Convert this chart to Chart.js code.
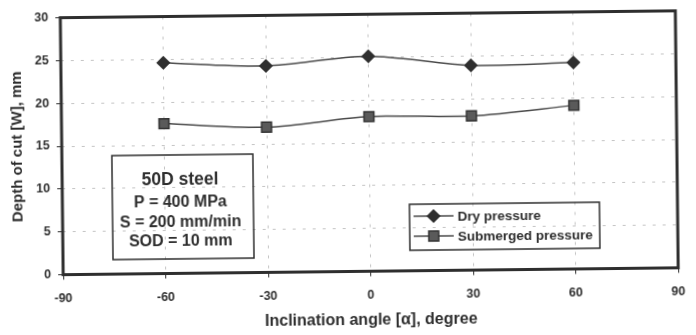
<!DOCTYPE html>
<html>
<head>
<meta charset="utf-8">
<script src="https://cdn.jsdelivr.net/npm/chart.js@4.4.1/dist/chart.umd.min.js"></script>
<style>
  html, body { margin: 0; padding: 0; background: #fff; overflow: hidden; }
  /* the scanned figure sits slightly tilted */
  #wrap { width: 696px; height: 335px; transform: rotate(-0.64deg); }
</style>
</head>
<body>
<div id="wrap"><canvas id="depth-chart" width="696" height="335"></canvas></div>
<script>
const angles = [-60, -30, 0, 30, 60];
const dryPressure = [24.6, 24.1, 25.1, 23.9, 24.1];
const submergedPressure = [17.5, 16.95, 18.05, 18.0, 19.1];
const xTicks = [-90, -60, -30, 0, 30, 60, 90];
const yTicks = [0, 5, 10, 15, 20, 25, 30];
const infoLines = ['50D steel', 'P = 400 MPa', 'S = 200 mm/min', 'SOD = 10 mm'];

const FONT = '"Liberation Sans", Arial, sans-serif';
const INK = '#2e2e2e';

const toPoints = vals => angles.map((a, i) => ({ x: a, y: vals[i] }));

const framePlugin = {
    id: 'frame',
    afterDraw(chart) {
        const ctx = chart.ctx;
        const a = chart.chartArea;
        ctx.save();
        ctx.strokeStyle = INK;
        ctx.lineWidth = 3;
        ctx.strokeRect(a.left, a.top, a.right - a.left, a.bottom - a.top);

        // info box
        ctx.lineWidth = 1.5;
        ctx.strokeRect(112, 153, 141, 104);
        ctx.fillStyle = INK;
        ctx.textAlign = 'center';
        ctx.textBaseline = 'middle';
        const ys = [178, 200.5, 220.5, 239.5];
        infoLines.forEach((t, i) => {
            ctx.font = 'bold ' + (i === 0 ? 17.5 : 16) + 'px ' + FONT;
            ctx.fillText(t, 180, ys[i]);
        });

        // legend box
        ctx.strokeRect(409, 205, 190, 46);
        ctx.textAlign = 'left';
        ctx.font = 'bold 13.5px ' + FONT;
        chart.data.datasets.forEach((ds, i) => {
            const y = 217 + i * 20;
            ctx.strokeStyle = ds.borderColor;
            ctx.lineWidth = 1.5;
            ctx.beginPath();
            ctx.moveTo(413, y);
            ctx.lineTo(453, y);
            ctx.stroke();
            ctx.fillStyle = ds.pointBackgroundColor;
            ctx.strokeStyle = ds.pointBorderColor;
            Chart.helpers.drawPoint(ctx, {
                pointStyle: ds.pointStyle,
                radius: ds.pointRadius,
                rotation: 0,
                borderWidth: 1
            }, 433, y);
            ctx.fillStyle = INK;
            ctx.fillText(ds.label, 457, y + 1);
        });
        ctx.restore();
    }
};

new Chart(document.getElementById('depth-chart'), {
    type: 'scatter',
    data: {
        datasets: [{
            label: 'Dry pressure',
            data: toPoints(dryPressure),
            showLine: true,
            tension: 0.3,
            borderColor: '#4a4a4a',
            borderWidth: 1.5,
            pointStyle: 'rectRot',
            pointRadius: 6,
            pointBackgroundColor: '#2f2f2f',
            pointBorderColor: '#2f2f2f'
        }, {
            label: 'Submerged pressure',
            data: toPoints(submergedPressure),
            showLine: true,
            tension: 0.3,
            borderColor: '#4a4a4a',
            borderWidth: 1.5,
            pointStyle: 'rect',
            pointRadius: 7,
            pointBackgroundColor: '#5a5a5a',
            pointBorderColor: '#333'
        }]
    },
    options: {
        responsive: false,
        animation: false,
        layout: { padding: { left: 0, top: 13, right: 12, bottom: 0 } },
        plugins: {
            legend: { display: false },
            tooltip: { enabled: false }
        },
        scales: {
            x: {
                type: 'linear',
                min: -90,
                max: 90,
                afterBuildTicks: s => { s.ticks = xTicks.map(v => ({ value: v })); },
                afterFit: s => { s.height = 63.5; },
                ticks: {
                    color: INK,
                    padding: 12,
                    font: { family: FONT, size: 12.5, weight: 'bold' }
                },
                grid: {
                    color: '#c4c4c4',
                    lineWidth: 1,
                    tickColor: INK,
                    tickLength: 5,
                    tickBorderDash: []
                },
                border: { display: false, dash: [3, 7] },
                title: {
                    display: true,
                    text: 'Inclination angle [α], degree',
                    color: INK,
                    padding: { top: 0, bottom: 5 },
                    font: { family: FONT, size: 16, weight: 'bold' }
                }
            },
            y: {
                min: 0,
                max: 30,
                afterBuildTicks: s => { s.ticks = yTicks.map(v => ({ value: v })); },
                afterFit: s => { s.width = 62; },
                ticks: {
                    color: INK,
                    padding: 7,
                    font: { family: FONT, size: 12.5, weight: 'bold' }
                },
                grid: {
                    color: '#c4c4c4',
                    lineWidth: 1,
                    tickColor: INK,
                    tickLength: 5,
                    tickBorderDash: []
                },
                border: { display: false, dash: [3, 7] },
                title: {
                    display: true,
                    text: 'Depth of cut [W], mm',
                    color: INK,
                    padding: { top: 9, bottom: 0 },
                    font: { family: FONT, size: 15, weight: 'bold' }
                }
            }
        }
    },
    plugins: [framePlugin]
});
</script>
</body>
</html>
